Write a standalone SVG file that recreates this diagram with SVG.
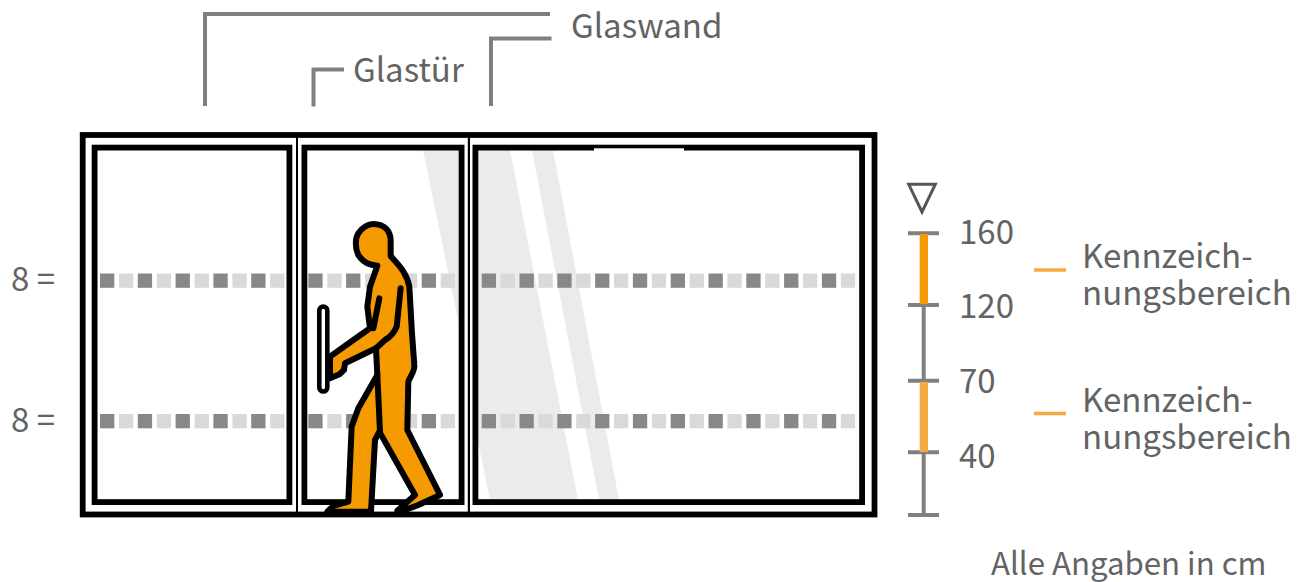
<svg xmlns="http://www.w3.org/2000/svg" width="1310" height="582" viewBox="0 0 1310 582">
<defs>
<style>
text{font-family:"Noto Sans CJK JP","Noto Sans",sans-serif;font-size:33px;fill:#636363}
.f{fill:none;stroke:#000;stroke-width:5.8}
.d{fill:#888}.l{fill:#d9d9d9}
.g{fill:#ebebeb}
.c{fill:none;stroke:#808080;stroke-width:4}
.k{stroke:#808080;stroke-width:4;fill:none}
.o{stroke:#f7a941;stroke-width:3.5}
</style>
<g id="row">
<rect class="d" x="100" width="14.3" height="14.3"/><rect class="l" x="119" width="14.3" height="14.3"/>
<rect class="d" x="137.800" width="14.3" height="14.3"/><rect class="l" x="156.800" width="14.3" height="14.3"/>
<rect class="d" x="175.600" width="14.3" height="14.3"/><rect class="l" x="194.600" width="14.3" height="14.3"/>
<rect class="d" x="213.400" width="14.3" height="14.3"/><rect class="l" x="232.400" width="14.3" height="14.3"/>
<rect class="d" x="251.200" width="14.3" height="14.3"/><rect class="l" x="270.200" width="14.3" height="14.3"/>
<rect class="d" x="308.300" width="14.3" height="14.3"/><rect class="l" x="327.300" width="14.3" height="14.3"/>
<rect class="d" x="346.100" width="14.3" height="14.3"/><rect class="l" x="365.100" width="14.3" height="14.3"/>
<rect class="d" x="383.900" width="14.3" height="14.3"/><rect class="l" x="402.900" width="14.3" height="14.3"/>
<rect class="d" x="421.700" width="14.3" height="14.3"/><rect class="l" x="440.700" width="14.3" height="14.3"/>
<rect class="d" x="481.700" width="14.3" height="14.3"/><rect class="l" x="500.600" width="14.3" height="14.3"/>
<rect class="d" x="519.500" width="14.3" height="14.3"/><rect class="l" x="538.400" width="14.3" height="14.3"/>
<rect class="d" x="557.300" width="14.3" height="14.3"/><rect class="l" x="576.200" width="14.3" height="14.3"/>
<rect class="d" x="595.100" width="14.3" height="14.3"/><rect class="l" x="614" width="14.3" height="14.3"/>
<rect class="d" x="632.900" width="14.3" height="14.3"/><rect class="l" x="651.800" width="14.3" height="14.3"/>
<rect class="d" x="670.700" width="14.3" height="14.3"/><rect class="l" x="689.600" width="14.3" height="14.3"/>
<rect class="d" x="708.500" width="14.3" height="14.3"/><rect class="l" x="727.400" width="14.3" height="14.3"/>
<rect class="d" x="746.300" width="14.3" height="14.3"/><rect class="l" x="765.200" width="14.3" height="14.3"/>
<rect class="d" x="784.100" width="14.3" height="14.3"/><rect class="l" x="803" width="14.3" height="14.3"/>
<rect class="d" x="821.900" width="14.3" height="14.3"/><rect class="l" x="840.800" width="14.3" height="14.3"/>
</g>
</defs>
<rect width="1310" height="582" fill="#fff"/>
<g id="glass">
<polygon class="g" points="423,150 460,150 460,330"/>
<polygon class="g" points="477,150 510,150 578,500 490,500 477,437"/>
<polygon class="g" points="532,150 553,150 619,500 599,500"/>
</g>
<g id="markings">
<use href="#row" y="273.500"/>
<use href="#row" y="414"/>
</g>
<g id="frame">
<rect class="f" x="82.700" y="135" width="791.800" height="379.500"/>
<rect class="f" x="94.600" y="147.600" width="194.800" height="354.500"/>
<rect class="f" x="304.400" y="147.600" width="157.200" height="354.500"/>
<rect class="f" x="475.400" y="147.600" width="386.700" height="354.500"/>
<rect x="296" y="135" width="2" height="379" fill="#000"/>
<rect x="467.800" y="135" width="2.200" height="379" fill="#000"/>
<rect x="594" y="148.300" width="90" height="3" fill="#fff"/>
</g>
<g id="person">
<g transform="translate(290 200) scale(.3333)" stroke="#000" stroke-width="18" stroke-linejoin="round" stroke-linecap="round">
<path fill="#f59a00" d="M250 72C285 72 303 95 302 125L302 168C320 190 350 215 358 260L366 400L373 495C375 515 360 530 355 545L352 690L450 885L385 915L340 932L322 932L375 885L268 695L255 720L243 935L112 935L130 918L175 905L185 680L205 625L262 525L258 445L165 490L162 510L150 522L120 535L120 470L190 420L240 385L232 320L240 260L262 197C240 195 222 190 205 165C195 145 195 115 205 100C218 82 232 72 250 72Z"/>
<path fill="none" d="M332 265L320 380C312 400 300 412 285 420L258 445M268 295L250 385M262 525L270 695"/>
</g>
<rect x="319.300" y="306.500" width="8" height="85" rx="4" fill="#fff" stroke="#000" stroke-width="4.600"/>
</g>
<g id="connectors">
<path class="c" d="M205 106V14H550"/>
<path class="c" d="M491 106V38.500H551.500"/>
<path class="c" d="M313.500 106.500V69.500H344"/>
</g>
<g id="scale">
<path class="k" d="M923.700 233V515M908 233.300H939M908 305H939M908 380.700H939M908 452.300H939M908 515H939"/>
<rect x="919.700" y="234" width="8.300" height="70" fill="#f59a00"/>
<rect x="919.700" y="382" width="8.300" height="70" fill="#f7a941"/>
<polygon points="908.700,184.300 935.300,184.300 922,212" fill="none" stroke="#555" stroke-width="3"/>
</g>
<g id="legend">
<path class="o" d="M1034 270H1066M1034 413.600H1066"/>
</g>
<g id="labels">
<text x="571" y="38">Glaswand</text>
<text x="353" y="82">Glastür</text>
<text x="11" y="291">8 =</text>
<text x="11" y="432">8 =</text>
<text x="959" y="244">160</text>
<text x="959" y="318">120</text>
<text x="959" y="393">70</text>
<text x="959" y="467.500">40</text>
<text x="1082" y="268">Kennzeich-<tspan x="1082" y="305">nungsbereich</tspan></text>
<text x="1082" y="412">Kennzeich-<tspan x="1082" y="449">nungsbereich</tspan></text>
<text x="991" y="575" style="font-size:31.200px">Alle Angaben in cm</text>
</g>
</svg>
